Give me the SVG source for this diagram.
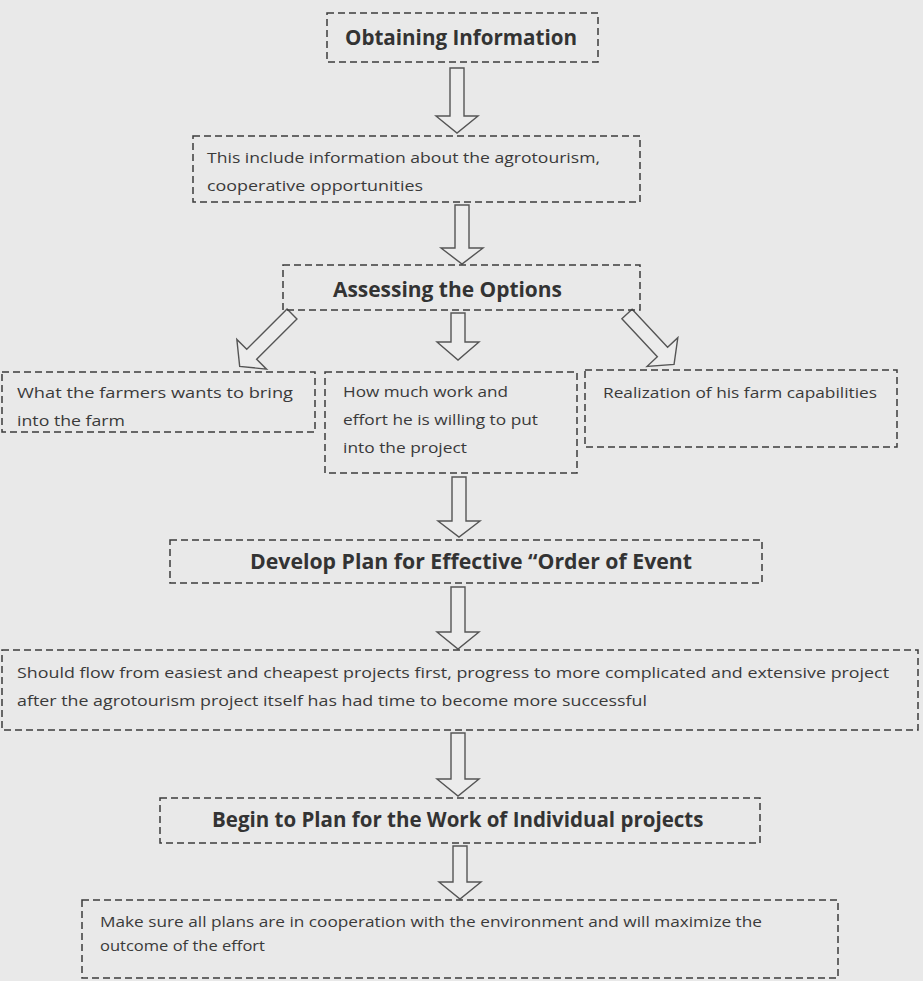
<svg xmlns="http://www.w3.org/2000/svg" width="923" height="981" viewBox="0 0 923 981">
<style>
.bg{fill:#e9e9e9}
.box{fill:none;stroke:#3c3c3c;stroke-width:1.5;stroke-dasharray:7 4}
.arr{fill:#ececec;stroke:#555;stroke-width:1.4;stroke-linejoin:miter}
.h{font-family:"Open Sans","Noto Sans",sans-serif;font-weight:bold;font-size:20.5px;fill:#333}
.t{font-family:"Open Sans","Noto Sans",sans-serif;font-size:15px;fill:#3a3a3a}
</style>
<rect class="bg" x="0" y="0" width="923" height="981"/>
<g id="connectors">
<path class="arr" d="M450,68 H464 V116 H478 L457,133 L436,116 H450 Z"/>
<path class="arr" d="M455,205 H469 V248 H483 L462,264 L441,248 H455 Z"/>
<path class="arr" d="M451,313 H465 V342 H479 L458,360 L437,342 H451 Z"/>
<path class="arr" transform="translate(292,314) rotate(45)" d="M-7,0 H7 V57 H21 L0,74 L-21,57 H-7 Z"/>
<path class="arr" transform="translate(627,314) rotate(-43)" d="M-7,0 H7 V52 H21 L0,69 L-21,52 H-7 Z"/>
<path class="arr" d="M452,477 H466 V521 H480 L459,537 L438,521 H452 Z"/>
<path class="arr" d="M451,587 H465 V632 H479 L458,649 L437,632 H451 Z"/>
<path class="arr" d="M451,733 H465 V779 H479 L458,796 L437,779 H451 Z"/>
<path class="arr" d="M453,846 H467 V882 H481 L460,899 L439,882 H453 Z"/>
</g>
<g id="obtaining">
<rect class="box" x="327" y="13" width="271" height="49"/>
<text class="h" x="345" y="45" textLength="232" lengthAdjust="spacingAndGlyphs">Obtaining Information</text>
</g>
<g id="info">
<rect class="box" x="193" y="136" width="447" height="66"/>
<text class="t" x="207" y="163" textLength="393" lengthAdjust="spacingAndGlyphs">This include information about the agrotourism,</text>
<text class="t" x="207" y="191" textLength="216" lengthAdjust="spacingAndGlyphs">cooperative opportunities</text>
</g>
<g id="assessing">
<rect class="box" x="283" y="265" width="357" height="45"/>
<text class="h" x="333" y="297" textLength="229" lengthAdjust="spacingAndGlyphs">Assessing the Options</text>
</g>
<g id="bring">
<rect class="box" x="2" y="372" width="313" height="60"/>
<text class="t" x="17" y="398" textLength="276" lengthAdjust="spacingAndGlyphs">What the farmers wants to bring</text>
<text class="t" x="17" y="426" textLength="108" lengthAdjust="spacingAndGlyphs">into the farm</text>
</g>
<g id="effort">
<rect class="box" x="325" y="372" width="252" height="101"/>
<text class="t" x="343" y="397" textLength="165" lengthAdjust="spacingAndGlyphs">How much work and</text>
<text class="t" x="343" y="425" textLength="195" lengthAdjust="spacingAndGlyphs">effort he is willing to put</text>
<text class="t" x="343" y="453" textLength="124" lengthAdjust="spacingAndGlyphs">into the project</text>
</g>
<g id="capabilities">
<rect class="box" x="585" y="370" width="312" height="77"/>
<text class="t" x="603" y="398" textLength="274" lengthAdjust="spacingAndGlyphs">Realization of his farm capabilities</text>
</g>
<g id="develop">
<rect class="box" x="170" y="540" width="592" height="43"/>
<text class="h" x="250" y="569" textLength="442" lengthAdjust="spacingAndGlyphs">Develop Plan for Effective “Order of Event</text>
</g>
<g id="flow">
<rect class="box" x="2" y="650" width="916" height="80"/>
<text class="t" x="17" y="678" textLength="872" lengthAdjust="spacingAndGlyphs">Should flow from easiest and cheapest projects first, progress to more complicated and extensive project</text>
<text class="t" x="17" y="706" textLength="630" lengthAdjust="spacingAndGlyphs">after the agrotourism project itself has had time to become more successful</text>
</g>
<g id="begin">
<rect class="box" x="160" y="798" width="600" height="45"/>
<text class="h" x="212" y="827">Begin to Plan for the Work of Individual projects</text>
</g>
<g id="maximize">
<rect class="box" x="82" y="900" width="756" height="78"/>
<text class="t" x="100" y="927" textLength="662" lengthAdjust="spacingAndGlyphs">Make sure all plans are in cooperation with the environment and will maximize the</text>
<text class="t" x="100" y="951" textLength="165" lengthAdjust="spacingAndGlyphs">outcome of the effort</text>
</g>
</svg>
